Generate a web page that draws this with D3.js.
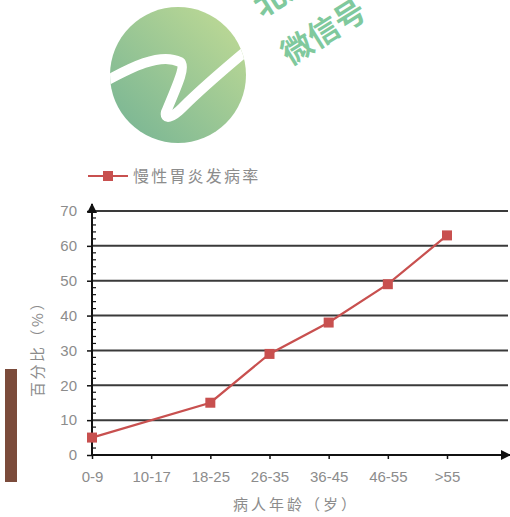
<!DOCTYPE html>
<html>
<head>
<meta charset="utf-8">
<script src="https://cdn.jsdelivr.net/npm/d3@7/dist/d3.min.js"></script>
<style>
html,body{margin:0;padding:0;background:#fff;}
svg{display:block;}
</style>
</head>
<body>
<svg id="chart" width="510" height="517"></svg>
<script>
// ---- data ----
const categories = ["0-9", "10-17", "18-25", "26-35", "36-45", "46-55", ">55"];
const seriesName = "慢性胃炎发病率";
const incidence = [5, null, 15, 29, 38, 49, 63];
const yTicks = [0, 10, 20, 30, 40, 50, 60, 70];
const xTitle = "病人年龄（岁）";
const yTitle = "百分比（%）";

const svg = d3.select("#chart");
const cjk = "'Noto Sans CJK SC', 'Noto Sans', sans-serif";
const latin = "'Liberation Sans', Arial, sans-serif";
const grey = "#8c8c8c";
const red = "#c8504f";

// ---- decorative logo (watermark) ----
const defs = svg.append("defs");
const grad = defs.append("linearGradient").attr("id", "lg")
  .attr("x1", "0%").attr("y1", "100%").attr("x2", "100%").attr("y2", "0%");
grad.append("stop").attr("offset", "0%").attr("stop-color", "#74b394");
grad.append("stop").attr("offset", "100%").attr("stop-color", "#c3dc95");
defs.append("clipPath").attr("id", "cc").append("circle")
  .attr("cx", 178).attr("cy", 75).attr("r", 68);
const logo = svg.append("g");
logo.append("circle").attr("cx", 178).attr("cy", 75).attr("r", 68).attr("fill", "url(#lg)");
logo.append("path").attr("clip-path", "url(#cc)")
  .attr("d", "M104,82 C130,68 160,52 180,62 C186,66 178,84 166,112 C164,120 172,118 182,108 C205,85 228,66 252,46")
  .attr("fill", "none").attr("stroke", "#fff").attr("stroke-width", 10)
  .attr("stroke-linejoin", "round").attr("stroke-linecap", "round");
logo.append("text").attr("transform", "translate(290,66) rotate(-32)")
  .attr("font-family", cjk).attr("font-weight", "bold").attr("font-size", 31)
  .attr("fill", "#80c99d").text("微信号");
logo.append("text").attr("transform", "translate(262,18) rotate(-32)")
  .attr("font-family", cjk).attr("font-weight", "bold").attr("font-size", 31)
  .attr("fill", "#80c99d").text("北京");

// brown side bar
svg.append("rect").attr("x", 5).attr("y", 369).attr("width", 12).attr("height", 113).attr("fill", "#7b4b3b");

// ---- scales ----
const x = d3.scalePoint().domain(categories).range([92, 447]);
const y = d3.scaleLinear().domain([0, 70]).range([455, 211]);
const xEnd = 508;

// gridlines
svg.append("g").selectAll("line").data(yTicks.filter(d => d > 0)).join("line")
  .attr("x1", 92).attr("x2", xEnd).attr("y1", d => y(d)).attr("y2", d => y(d))
  .attr("stroke", "#3a3a3a").attr("stroke-width", 2);

// y axis
const yAxis = svg.append("g").attr("transform", "translate(92,0)")
  .call(d3.axisLeft(y).tickValues(yTicks).tickSize(5).tickPadding(10));
yAxis.select(".domain").remove();
yAxis.selectAll(".tick line").attr("stroke", "#111").attr("stroke-width", 1.5);
yAxis.selectAll(".tick text").attr("font-family", latin).attr("font-size", 15).attr("fill", grey);
// minor ticks
svg.append("g").selectAll("line").data(d3.range(2, 70, 2).filter(d => d % 10 !== 0)).join("line")
  .attr("x1", 92).attr("x2", 96).attr("y1", d => y(d)).attr("y2", d => y(d))
  .attr("stroke", "#111").attr("stroke-width", 1.2);

// x axis
const xAxis = svg.append("g").attr("transform", "translate(0,455)")
  .call(d3.axisBottom(x).tickSize(4).tickPadding(12));
xAxis.select(".domain").remove();
xAxis.selectAll(".tick line").attr("stroke", "#111").attr("stroke-width", 1.5);
xAxis.selectAll(".tick text").attr("font-family", latin).attr("font-size", 15).attr("fill", grey);

// axis lines with arrows
defs.append("marker").attr("id", "arr").attr("viewBox", "0 0 10 10")
  .attr("refX", 9).attr("refY", 5).attr("markerWidth", 5).attr("markerHeight", 5)
  .attr("orient", "auto").attr("markerUnits", "strokeWidth")
  .append("path").attr("d", "M0,0 L10,5 L0,10 z").attr("fill", "#111");
svg.append("line").attr("x1", 92).attr("y1", 455).attr("x2", 510).attr("y2", 455)
  .attr("stroke", "#111").attr("stroke-width", 2).attr("marker-end", "url(#arr)");
svg.append("line").attr("x1", 92).attr("y1", 455).attr("x2", 92).attr("y2", 204)
  .attr("stroke", "#111").attr("stroke-width", 2).attr("marker-end", "url(#arr)");

// series
const pts = categories.map((c, i) => ({c, v: incidence[i]})).filter(d => d.v !== null);
svg.append("path").datum(pts)
  .attr("d", d3.line().x(d => x(d.c)).y(d => y(d.v)))
  .attr("fill", "none").attr("stroke", red).attr("stroke-width", 2.2);
svg.append("g").selectAll("rect").data(pts).join("rect")
  .attr("x", d => x(d.c) - 5).attr("y", d => y(d.v) - 5)
  .attr("width", 10).attr("height", 10).attr("fill", red);

// legend
const lg = svg.append("g");
lg.append("line").attr("x1", 88).attr("x2", 128).attr("y1", 176).attr("y2", 176)
  .attr("stroke", red).attr("stroke-width", 2.2);
lg.append("rect").attr("x", 103).attr("y", 171).attr("width", 10).attr("height", 10).attr("fill", red);
lg.append("text").attr("x", 133).attr("y", 182).attr("font-family", cjk).attr("font-size", 16)
  .attr("letter-spacing", 2.2).attr("fill", grey).text(seriesName);

// titles
svg.append("text").attr("x", 296).attr("y", 510).attr("text-anchor", "middle")
  .attr("font-family", cjk).attr("font-size", 15).attr("letter-spacing", 3)
  .attr("fill", grey).text(xTitle);
svg.append("text").attr("transform", "translate(43,345) rotate(-90)").attr("text-anchor", "middle")
  .attr("font-family", cjk).attr("font-size", 15).attr("letter-spacing", 2.5)
  .attr("fill", grey).text(yTitle);
</script>
</body>
</html>
